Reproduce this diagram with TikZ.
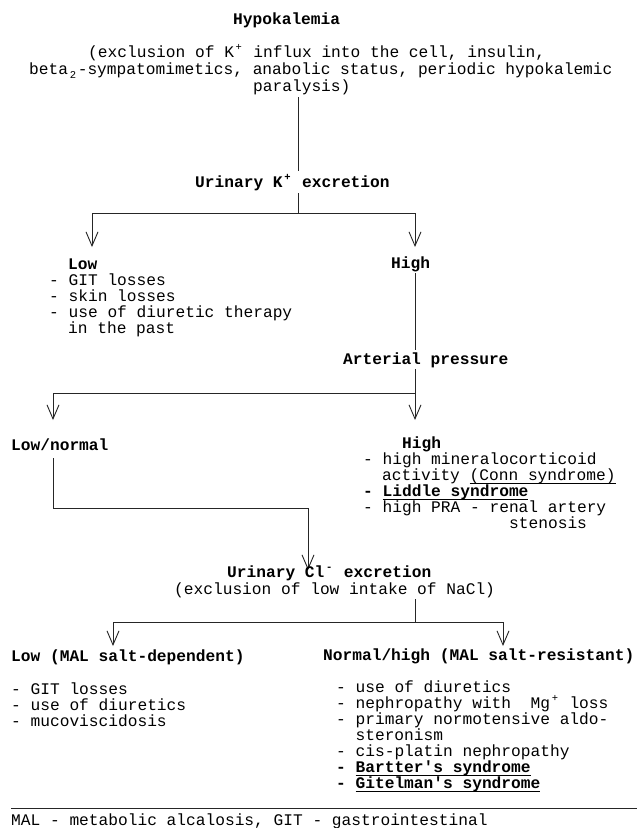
\documentclass[tikz,border=0pt]{standalone}
\usepackage{fontspec}
\newfontfamily\mono{Liberation Mono}
\usetikzlibrary{arrows.meta}
\newcommand\sps[1]{\makebox[0.6em][c]{\raisebox{0.42em}{\fontsize{10.5}{10.5}\selectfont #1}}}
\newcommand\sbs[1]{\makebox[0.6em][c]{\raisebox{-0.28em}{\fontsize{10.5}{10.5}\selectfont #1}}}
\newsavebox\ulbox
\newcommand\ulx[1]{\sbox\ulbox{#1}\rlap{\rule[-3.4pt]{\wd\ulbox}{0.8pt}}\usebox\ulbox}
\begin{document}
\begin{tikzpicture}[x=1pt,y=-1pt,
  txt/.style={anchor=base west, inner sep=0pt, font=\mono\frenchspacing\fontsize{16.2}{17}\selectfont},
  btxt/.style={anchor=base west, inner sep=0pt, font=\mono\bfseries\frenchspacing\fontsize{16.2}{17}\selectfont},
  ln/.style={line width=0.9pt, draw=black!85},
  arr/.style={ln, -{Straight Barb[length=14pt,width=12pt]}}]
\useasboundingbox (0,0) rectangle (637,828);

% top
\node[btxt] (hypo) at (233,24) {Hypokalemia};
\node[txt] (para1) at (88,57) {(exclusion of K\sps{+} influx into the cell, insulin,};
\node[txt] (para2) at (29,74) {beta\sbs{2}-sympatomimetics, anabolic status, periodic hypokalemic};
\node[txt] (para3) at (253,91) {paralysis)};

\coordinate (v1a) at (298,97);
\coordinate (v1b) at (298,171);
\node[btxt] (urk) at (195,187) {Urinary K\sps{+} excretion};
\coordinate (v2a) at (298,193);
\coordinate (j1) at (298,213);
\coordinate (t1L) at (92,247);
\coordinate (t1R) at (415,247);
\draw[ln] (v1a) -- (v1b);
\draw[ln] (v2a) -- (j1);
\draw[arr] (j1) -| (t1L);
\draw[arr] (j1) -| (t1R);

% low urinary K
\node[btxt] (low1) at (68,269) {Low};
\node[txt] (low1a) at (49,285) {- GIT losses};
\node[txt] (low1b) at (49,301) {- skin losses};
\node[txt] (low1c) at (49,317) {- use of diuretic therapy};
\node[txt] (low1d) at (68,333) {in the past};

% high urinary K
\node[btxt] (high1) at (391,268) {High};
\coordinate (v3a) at (415,273);
\coordinate (v3b) at (415,350);
\node[btxt] (art) at (343,364) {Arterial pressure};
\coordinate (v4a) at (415,369);
\coordinate (j2) at (415,393);
\coordinate (t2L) at (53,420);
\coordinate (t2R) at (415,420);
\draw[ln] (v3a) -- (v3b);
\draw[ln] (v4a) -- (j2);
\draw[arr] (j2) -| (t2L);
\draw[arr] (j2) -- (t2R);

\node[btxt] (lownorm) at (11,450) {Low/normal};
\node[btxt] (high2) at (402,448) {High};
\node[txt] (h2a) at (363,464) {- high mineralocorticoid};
\node[txt] (h2b) at (382,480) {activity \ulx{(Conn syndrome)}};
\node[txt] (h2c) at (363,496) {{\bfseries - \ulx{Liddle syndrome}}};
\node[txt] (h2d) at (363,512) {- high PRA - renal artery};
\node[txt] (h2e) at (509,528) {stenosis};

\coordinate (v5a) at (53,458);
\coordinate (j3) at (53,508);
\coordinate (t3) at (308,570);
\draw[arr] (v5a) -- (j3) -| (t3);

\node[btxt] (ucl) at (227,577) {Urinary Cl\sps{-} excretion};
\node[txt] (excl) at (174,594) {(exclusion of low intake of NaCl)};
\coordinate (v6a) at (415,599);
\coordinate (j4) at (415,622);
\coordinate (t4L) at (113,646);
\coordinate (t4R) at (503,646);
\draw[ln] (v6a) -- (j4);
\draw[arr] (j4) -| (t4L);
\draw[arr] (j4) -| (t4R);

\node[btxt] (lowmal) at (11,661) {Low (MAL salt-dependent)};
\node[btxt] (normhigh) at (323,660) {Normal/high (MAL salt-resistant)};

\node[txt] (la) at (11,694) {- GIT losses};
\node[txt] (lb) at (11,710) {- use of diuretics};
\node[txt] (lc) at (11,726) {- mucoviscidosis};

\node[txt] (ra) at (336,692) {- use of diuretics};
\node[txt] (rb) at (336,708) {- nephropathy with\ \ Mg\sps{+} loss};
\node[txt] (rc) at (336,724) {- primary normotensive aldo-};
\node[txt] (rd) at (355.4,740) {steronism};
\node[txt] (re) at (336,756) {- cis-platin nephropathy};
\node[txt] (rf) at (336,772) {{\bfseries - \ulx{Bartter\textquotesingle s syndrome}}};
\node[txt] (rg) at (336,788) {{\bfseries - \ulx{Gitelman\textquotesingle s syndrome}}};

\coordinate (fl) at (11,808);
\coordinate (fr) at (637,808);
\draw[ln] (fl) -- (fr);
\node[txt] (foot) at (11,825) {MAL - metabolic alcalosis, GIT - gastrointestinal};
\end{tikzpicture}
\end{document}
